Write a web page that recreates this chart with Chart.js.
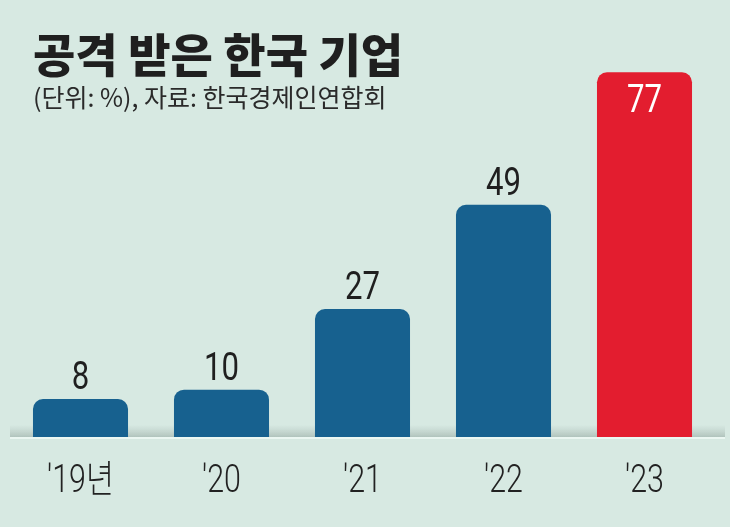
<!DOCTYPE html>
<html>
<head>
<meta charset="utf-8">
<script src="https://cdn.jsdelivr.net/npm/chart.js@4"></script>
<style>
  html, body { margin: 0; padding: 0; background: #d7e9e2; }
  #wrap { width: 730px; height: 527px; }
</style>
</head>
<body>
<div id="wrap"><canvas id="attackChart" width="730" height="527"></canvas></div>
<script>
const years = ["'19년", "'20", "'21", "'22", "'23"];
const attacked = [8, 10, 27, 49, 77];
const barColors = ["#17618f", "#17618f", "#17618f", "#17618f", "#e31d2f"];

const chartTitle = "공격 받은 한국 기업";
const chartSubtitle = "(단위: %), 자료: 한국경제인연합회";

// narrow look for numbers: squeeze Roboto horizontally
function narrowText(ctx, text, x, y, squeeze) {
  ctx.save();
  ctx.translate(x, y);
  ctx.scale(squeeze, 1);
  ctx.fillText(text, 0, 0);
  ctx.restore();
}

// title, subtitle, grey strip along the baseline, year labels
const backdrop = {
  id: "backdrop",
  beforeDatasetsDraw(chart) {
    const ctx = chart.ctx;
    const base = chart.scales.y.getPixelForValue(0);
    const grad = ctx.createLinearGradient(0, base - 12, 0, base);
    grad.addColorStop(0, "rgba(160,175,170,0)");
    grad.addColorStop(1, "rgba(140,158,152,0.5)");
    ctx.save();
    ctx.fillStyle = grad;
    ctx.fillRect(10, base - 12, 715, 12);
    ctx.fillStyle = "rgba(240,250,246,0.8)";
    ctx.fillRect(10, base, 715, 2);
    ctx.restore();
  },
  afterDraw(chart) {
    const ctx = chart.ctx;
    const xs = chart.scales.x;
    const base = chart.scales.y.getPixelForValue(0);
    ctx.save();
    ctx.fillStyle = "#1f1f1f";
    ctx.textBaseline = "alphabetic";
    ctx.font = "900 46px 'Noto Sans CJK KR'";
    ctx.fillText(chartTitle, 33, 72);
    ctx.fillStyle = "#2a2a2a";
    ctx.font = "400 25px 'Noto Sans CJK KR'";
    ctx.fillText(chartSubtitle, 33, 107);

    ctx.fillStyle = "#222";
    ctx.textAlign = "center";
    ctx.font = "300 38px Roboto, 'Noto Sans CJK KR'";
    xs.ticks.forEach((t, i) => {
      narrowText(ctx, xs.getLabelForValue(t.value), xs.getPixelForTick(i), base + 55, 0.8);
    });
    ctx.restore();
  }
};

const valueLabels = {
  id: "valueLabels",
  afterDatasetsDraw(chart) {
    const ctx = chart.ctx;
    const meta = chart.getDatasetMeta(0);
    ctx.save();
    ctx.font = "400 38px Roboto";
    ctx.textAlign = "center";
    ctx.textBaseline = "alphabetic";
    meta.data.forEach((bar, i) => {
      if (i === attacked.length - 1) {
        ctx.fillStyle = "#ffffff";
        narrowText(ctx, attacked[i], bar.x, bar.y + 40, 0.82);
      } else {
        ctx.fillStyle = "#1f1f1f";
        narrowText(ctx, attacked[i], bar.x, bar.y - 10, 0.82);
      }
    });
    ctx.restore();
  }
};

new Chart(document.getElementById("attackChart"), {
  type: "bar",
  data: {
    labels: years,
    datasets: [{
      data: attacked,
      backgroundColor: barColors,
      borderRadius: { topLeft: 10, topRight: 10 },
      borderSkipped: "bottom",
      barPercentage: 0.674,
      categoryPercentage: 1
    }]
  },
  options: {
    responsive: false,
    animation: false,
    layout: { padding: { left: 10, right: 15, top: 58, bottom: 90 } },
    plugins: {
      legend: { display: false },
      tooltip: { enabled: false }
    },
    scales: {
      x: {
        grid: { display: false, drawTicks: false },
        border: { display: false },
        ticks: { display: false }
      },
      y: {
        display: false,
        min: 0,
        max: 80
      }
    }
  },
  plugins: [backdrop, valueLabels]
});
</script>
</body>
</html>
